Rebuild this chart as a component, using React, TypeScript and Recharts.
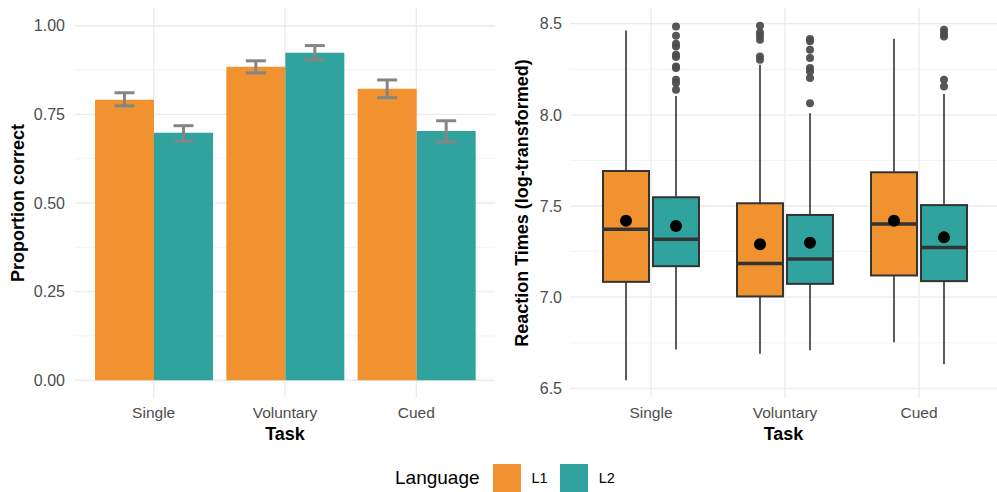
import { Bar, CartesianGrid, ComposedChart, ErrorBar, Label, XAxis, YAxis } from "recharts";

const tasks = ["Single", "Voluntary", "Cued"];

// proportion correct (left panel)
const accL1 = [0.791, 0.884, 0.822];
const accL2 = [0.698, 0.924, 0.703];
const ciL1Low = [0.774, 0.867, 0.797];
const ciL1High = [0.811, 0.901, 0.847];
const ciL2Low = [0.675, 0.904, 0.672];
const ciL2High = [0.718, 0.944, 0.732];

// log RT box stats (right panel)
const rtL1Q1 = [7.084, 7.004, 7.119];
const rtL1Med = [7.372, 7.185, 7.401];
const rtL1Q3 = [7.692, 7.515, 7.685];
const rtL1Lo = [6.544, 6.69, 6.753];
const rtL1Hi = [8.462, 8.275, 8.418];
const rtL1Mean = [7.419, 7.29, 7.419];
const rtL1Out = [[], [8.489, 8.452, 8.434, 8.412, 8.32, 8.302], []];

const rtL2Q1 = [7.17, 7.073, 7.088];
const rtL2Med = [7.317, 7.209, 7.273];
const rtL2Q3 = [7.548, 7.451, 7.505];
const rtL2Lo = [6.713, 6.709, 6.632];
const rtL2Hi = [8.104, 8.009, 8.114];
const rtL2Mean = [7.39, 7.299, 7.328];
const rtL2Out = [
  [8.485, 8.434, 8.39, 8.375, 8.33, 8.317, 8.265, 8.257, 8.192, 8.174, 8.137],
  [8.416, 8.403, 8.357, 8.312, 8.257, 8.238, 8.202, 8.064],
  [8.467, 8.449, 8.43, 8.192, 8.156],
];

const accTicks = [0, 0.25, 0.5, 0.75, 1];
const accMinor = [0.125, 0.375, 0.625, 0.875];
const rtTicks = [6.5, 7, 7.5, 8, 8.5];
const rtMinor = [6.75, 7.25, 7.75, 8.25];

const ORANGE = "#F0922F";
const TEAL = "#30A39F";
const FONT = '"Liberation Sans", Arial, sans-serif';

const accData = tasks.map((task, i) => ({
  task,
  L1: accL1[i],
  L2: accL2[i],
  e1: [accL1[i] - ciL1Low[i], ciL1High[i] - accL1[i]],
  e2: [accL2[i] - ciL2Low[i], ciL2High[i] - accL2[i]],
}));

const rtData = tasks.map((task, i) => ({
  task,
  L1: [rtL1Q1[i], rtL1Q3[i]],
  L2: [rtL2Q1[i], rtL2Q3[i]],
  s1: { q1: rtL1Q1[i], med: rtL1Med[i], q3: rtL1Q3[i], lo: rtL1Lo[i], hi: rtL1Hi[i], mean: rtL1Mean[i], out: rtL1Out[i] },
  s2: { q1: rtL2Q1[i], med: rtL2Med[i], q3: rtL2Q3[i], lo: rtL2Lo[i], hi: rtL2Hi[i], mean: rtL2Mean[i], out: rtL2Out[i] },
}));

/** Draws a ggplot-style box from the range bar's own pixel geometry. */
function BoxShape(props: any) {
  const { x, y, width, height, stats, fill } = props;
  if (height == null || !stats) return null;
  const k = height / (stats.q3 - stats.q1);
  const py = (v: number) => y + (stats.q3 - v) * k;
  const cx = x + width / 2;
  return (
    <g>
      <line x1={cx} x2={cx} y1={py(stats.hi)} y2={py(stats.q3)} stroke="#333" strokeWidth={1.6} />
      <line x1={cx} x2={cx} y1={py(stats.q1)} y2={py(stats.lo)} stroke="#333" strokeWidth={1.6} />
      <rect x={x} y={y} width={width} height={height} fill={fill} stroke="#333" strokeWidth={2} />
      <line x1={x} x2={x + width} y1={py(stats.med)} y2={py(stats.med)} stroke="#333" strokeWidth={3.5} />
      {stats.out.map((v: number, j: number) => (
        <circle key={j} cx={cx} cy={py(v)} r={4} fill="#4d4d4d" fillOpacity={0.95} />
      ))}
      <circle cx={cx} cy={py(stats.mean)} r={6} fill="#000" />
    </g>
  );
}

function VTitle(props: any) {
  const { viewBox, text, x } = props;
  const cy = viewBox ? viewBox.y + viewBox.height / 2 : 203;
  return (
    <text
      x={x}
      y={cy}
      transform={`rotate(-90 ${x} ${cy})`}
      textAnchor="middle"
      dominantBaseline="central"
      fontSize={18}
      fontWeight="bold"
      fill="#000"
      fontFamily={FONT}
    >
      {text}
    </text>
  );
}

const tickY = { fontSize: 16, fill: "#4d4d4d", fontFamily: FONT };
const tickX = { fontSize: 15.5, fill: "#4d4d4d", fontFamily: FONT };
const xTitle = { value: "Task", position: "insideBottom" as const, offset: 2, fontSize: 18, fontWeight: "bold", fill: "#000", fontFamily: FONT };

export default function App() {
  return (
    <div style={{ position: "absolute", left: 0, top: 0, width: 997, height: 492, background: "#fff", fontFamily: FONT }}>
      <div style={{ position: "absolute", left: 0, top: 0 }}>
        <ComposedChart width={500} height={452} data={accData} margin={{ top: 8, right: 5, left: 0, bottom: 10 }} barGap={0}>
          <CartesianGrid stroke="#ebebeb" strokeWidth={1.3} syncWithTicks />
          <CartesianGrid stroke="#f0f0f0" strokeWidth={0.8} vertical={false} horizontalValues={accMinor} syncWithTicks />
          <XAxis dataKey="task" axisLine={false} tickLine={false} tickSize={0} tickMargin={9} padding={{ left: 13, right: 13 }} height={44} tick={tickX} label={xTitle} />
          <YAxis
            type="number"
            domain={[-0.05, 1.05]}
            allowDataOverflow
            ticks={accTicks}
            tickFormatter={(v: number) => v.toFixed(2)}
            axisLine={false}
            tickLine={false}
            tickSize={0}
            tickMargin={10}
            width={75}
            tick={tickY}
          >
            <Label content={(p: any) => <VTitle {...p} text="Proportion correct" x={18} />} />
          </YAxis>
          <Bar dataKey="L1" fill={ORANGE} barSize={59} isAnimationActive={false}>
            <ErrorBar dataKey="e1" width={10} stroke="#858585" strokeWidth={3} direction="y" isAnimationActive={false} />
          </Bar>
          <Bar dataKey="L2" fill={TEAL} barSize={59} isAnimationActive={false}>
            <ErrorBar dataKey="e2" width={10} stroke="#858585" strokeWidth={3} direction="y" isAnimationActive={false} />
          </Bar>
        </ComposedChart>
      </div>
      <div style={{ position: "absolute", left: 500, top: 0 }}>
        <ComposedChart width={497} height={452} data={rtData} margin={{ top: 8, right: 0, left: 0, bottom: 10 }} barGap={4}>
          <CartesianGrid stroke="#ebebeb" strokeWidth={1.3} syncWithTicks />
          <CartesianGrid stroke="#f0f0f0" strokeWidth={0.8} vertical={false} horizontalValues={rtMinor} syncWithTicks />
          <XAxis dataKey="task" axisLine={false} tickLine={false} tickSize={0} tickMargin={9} padding={{ left: 14, right: 11 }} height={44} tick={tickX} label={xTitle} />
          <YAxis
            type="number"
            domain={[6.447, 8.586]}
            allowDataOverflow
            ticks={rtTicks}
            tickFormatter={(v: number) => v.toFixed(1)}
            axisLine={false}
            tickLine={false}
            tickSize={0}
            tickMargin={8}
            width={70}
            tick={tickY}
          >
            <Label content={(p: any) => <VTitle {...p} text="Reaction Times (log-transformed)" x={22} />} />
          </YAxis>
          <Bar
            dataKey="L1"
            barSize={46}
            isAnimationActive={false}
            shape={(p: any) => <BoxShape {...p} stats={p.payload.s1} fill={ORANGE} />}
          />
          <Bar
            dataKey="L2"
            barSize={46}
            isAnimationActive={false}
            shape={(p: any) => <BoxShape {...p} stats={p.payload.s2} fill={TEAL} />}
          />
        </ComposedChart>
      </div>
      <div style={{ position: "absolute", left: 395, top: 464, height: 28, display: "flex", alignItems: "center", color: "#000" }}>
        <span style={{ fontSize: 19, marginRight: 13 }}>Language</span>
        <span style={{ width: 28, height: 28, background: ORANGE, marginRight: 11 }} />
        <span style={{ fontSize: 14.5, marginRight: 12 }}>L1</span>
        <span style={{ width: 28, height: 28, background: TEAL, marginRight: 11 }} />
        <span style={{ fontSize: 14.5 }}>L2</span>
      </div>
    </div>
  );
}
